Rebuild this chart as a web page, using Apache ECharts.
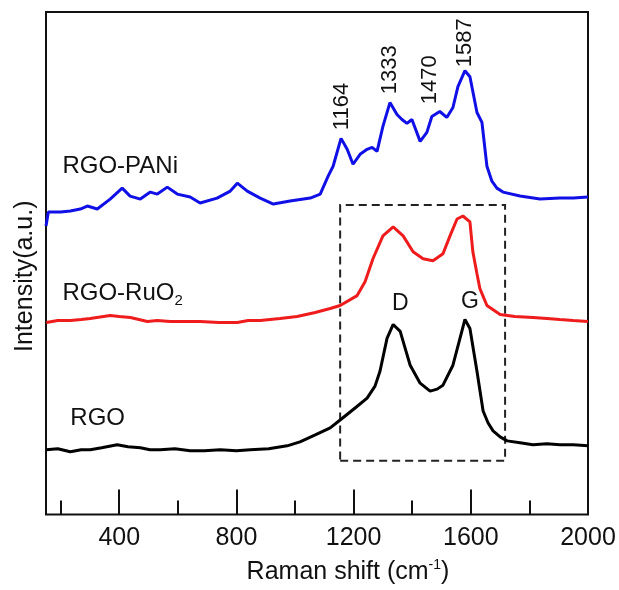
<!DOCTYPE html>
<html>
<head>
<meta charset="utf-8">
<script src="https://cdn.jsdelivr.net/npm/echarts@6/dist/echarts.min.js"></script>
<style>
  html, body { margin: 0; padding: 0; background: #fff; }
  #chart { width: 619px; height: 590px; }
</style>
</head>
<body>
<div id="chart"></div>
<script>
// 拉曼光谱数据（x: cm-1, y: a.u.，三条曲线纵向错开）
var rgoX = [151, 190, 233, 270, 301, 340, 393, 430, 472, 505, 540, 590, 642, 690, 745, 800, 847, 910, 973, 1017, 1069, 1120, 1154, 1205, 1246, 1273, 1290, 1314, 1335, 1359, 1376, 1393, 1427, 1461, 1485, 1505, 1539, 1563, 1580, 1597, 1621, 1642, 1659, 1676, 1700, 1724, 1768, 1812, 1860, 1904, 1950, 2000];
var rgoY = [65, 66, 63, 65, 65, 67, 70, 68, 67, 65, 65, 66, 64, 64, 65, 64, 65, 66, 69, 73, 80, 87, 95, 107, 117, 129, 144, 177, 191, 184, 167, 150, 132, 124, 126, 130, 150, 177, 196, 187, 144, 104, 92, 84, 78, 74, 72, 70, 71, 70, 70, 69];

var ruoX = [151, 190, 233, 270, 301, 369, 400, 438, 496, 530, 574, 620, 676, 740, 803, 840, 881, 949, 1007, 1069, 1120, 1154, 1212, 1239, 1266, 1300, 1335, 1369, 1403, 1437, 1471, 1505, 1529, 1553, 1573, 1597, 1607, 1621, 1631, 1655, 1700, 1750, 1812, 1860, 1904, 1950, 2000];
var ruoY = [193, 195, 195, 196, 197, 200, 199, 198, 194, 195, 194, 194, 194, 193, 193, 195, 195, 197, 199, 203, 207, 210, 220, 234, 257, 280, 289, 280, 264, 257, 255, 262, 280, 297, 300, 294, 264, 242, 227, 210, 201, 199, 198, 197, 196, 195, 194];

var paniX = [150, 158, 200, 233, 267, 291, 325, 369, 410, 437, 472, 506, 530, 564, 598, 642, 676, 734, 779, 803, 837, 881, 926, 983, 1052, 1086, 1113, 1130, 1157, 1178, 1198, 1222, 1246, 1263, 1280, 1300, 1324, 1348, 1365, 1382, 1399, 1427, 1450, 1467, 1494, 1518, 1539, 1556, 1580, 1597, 1621, 1638, 1655, 1672, 1689, 1710, 1768, 1836, 1904, 1950, 2000];
var paniY = [290, 304, 304, 305, 307, 310, 307, 317, 328, 320, 317, 324, 322, 329, 322, 319, 313, 318, 325, 333, 325, 318, 312, 315, 318, 322, 340, 350, 378, 367, 352, 362, 367, 369, 365, 390, 414, 402, 397, 393, 397, 375, 384, 400, 405, 399, 409, 430, 446, 440, 404, 394, 350, 335, 328, 324, 320, 317, 318, 318, 319];

var peakLabels = ['1164', '1333', '1470', '1587'];
var majorTicks = [400, 800, 1200, 1600, 2000];
var minorTicks = [200, 600, 1000, 1400, 1800];

function pairs(xs, ys) {
  return xs.map(function (x, i) { return [x, ys[i]]; });
}

var font = 'Liberation Sans, Arial, sans-serif';
var textColor = '#111';

var chart = echarts.init(document.getElementById('chart'), null, { renderer: 'canvas' });

var option = {
  backgroundColor: '#fff',
  animation: false,
  grid: {
    left: 46, right: 31, top: 12, bottom: 73,
    show: true,
    borderColor: '#111',
    borderWidth: 2
  },
  xAxis: [{
    type: 'value',
    min: 150,
    max: 2000,
    name: 'Raman shift (cm{sup|-1})',
    nameLocation: 'middle',
    nameGap: 44,
    nameTextStyle: {
      fontFamily: font, fontSize: 25, color: textColor,
      padding: [0, 0, 0, 62],
      rich: { sup: { fontFamily: font, fontSize: 14, color: textColor, padding: [0, 0, 14, 0] } }
    },
    axisLine: { show: false },
    splitLine: { show: false },
    axisTick: {
      show: true, inside: true, length: 14,
      customValues: minorTicks,
      lineStyle: { color: '#111', width: 2 }
    },
    axisLabel: {
      customValues: majorTicks,
      margin: 11,
      formatter: function (v) { return String(v); },
      fontFamily: font, fontSize: 25, color: textColor
    }
  }, {
    type: 'value',
    min: 150,
    max: 2000,
    position: 'bottom',
    axisLine: { show: false },
    splitLine: { show: false },
    axisLabel: { show: false },
    axisTick: {
      show: true, inside: true, length: 25,
      customValues: majorTicks,
      lineStyle: { color: '#111', width: 2 }
    }
  }],
  yAxis: {
    type: 'value',
    min: 0,
    max: 505,
    name: 'Intensity(a.u.)',
    nameLocation: 'middle',
    nameRotate: 90,
    nameGap: 8,
    nameTextStyle: { fontFamily: font, fontSize: 25, color: textColor, padding: [0, 26, 0, 0] },
    axisLine: { show: false },
    axisTick: { show: false },
    axisLabel: { show: false },
    splitLine: { show: false }
  },
  series: [{
    name: 'RGO',
    type: 'line',
    data: pairs(rgoX, rgoY),
    showSymbol: false,
    lineStyle: { color: '#000', width: 3 },
    markArea: {
      silent: true,
      itemStyle: { color: 'rgba(0,0,0,0)', borderColor: '#222', borderWidth: 2, borderType: [8, 5] },
      data: [[{ xAxis: 1154, yAxis: 54 }, { xAxis: 1717, yAxis: 311 }]]
    }
  }, {
    name: 'RGO-RuO2',
    type: 'line',
    data: pairs(ruoX, ruoY),
    showSymbol: false,
    lineStyle: { color: '#ee1c1c', width: 3 }
  }, {
    name: 'RGO-PANi',
    type: 'line',
    data: pairs(paniX, paniY),
    showSymbol: false,
    lineStyle: { color: '#1010e6', width: 3 }
  }, {
    // 峰位标注（竖排）
    type: 'scatter',
    symbolSize: 0,
    silent: true,
    itemStyle: { opacity: 1 },
    label: {
      show: true, position: 'inside', rotate: 90,
      formatter: '{b}',
      fontFamily: font, fontSize: 22, color: textColor
    },
    data: [
      { name: peakLabels[0], value: [1160, 410] },
      { name: peakLabels[1], value: [1324, 447] },
      { name: peakLabels[2], value: [1461, 437] },
      { name: peakLabels[3], value: [1580, 474] }
    ]
  }, {
    // 曲线名称及 D / G 峰
    type: 'scatter',
    symbolSize: 0,
    silent: true,
    itemStyle: { opacity: 1 },
    label: {
      show: true, position: 'inside',
      formatter: '{b}',
      fontFamily: font, fontSize: 24, color: textColor,
      rich: { sub: { fontFamily: font, fontSize: 15, color: textColor, padding: [14, 0, 0, 0] } }
    },
    data: [
      { name: 'RGO-PANi', value: [206, 350], label: { align: 'left' } },
      { name: 'RGO-RuO{sub|2}', value: [206, 222], label: { align: 'left' } },
      { name: 'RGO', value: [233, 97], label: { align: 'left' } },
      { name: 'D', value: [1359, 212], label: { fontSize: 23 } },
      { name: 'G', value: [1597, 214], label: { fontSize: 23 } }
    ]
  }]
};

chart.setOption(option);
</script>
</body>
</html>
